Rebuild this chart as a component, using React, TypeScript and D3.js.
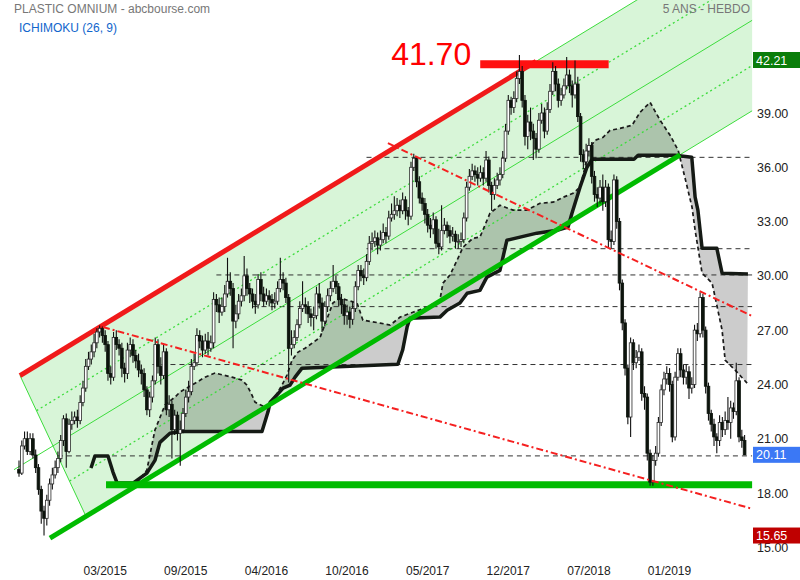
import * as d3 from "d3";

// Weekly bars, 5 years. Open of each bar = previous close.
const firstOpen = 19.3;
const closes = [
  19.1, 20.6, 21.0, 20.3, 21.0, 20.1, 19.4, 18.2, 17.0, 16.6,
  17.6, 18.5, 19.0, 19.4, 19.9, 20.9, 22.1, 20.3, 21.8, 22.0,
  22.2, 22.0, 23.0, 23.8, 25.0, 25.4, 25.8, 26.3, 26.9, 27.1,
  26.7, 26.2, 24.6, 24.4, 26.6, 26.2, 26.0, 24.9, 24.6, 25.9,
  26.2, 25.6, 25.3, 24.8, 24.6, 23.7, 22.6, 23.3, 24.2, 26.2,
  25.0, 24.5, 25.8, 22.6, 22.9, 21.5, 22.3, 21.3, 21.5, 22.4,
  23.3, 23.6, 25.0, 25.2, 26.7, 26.4, 25.9, 26.4, 26.0, 26.3,
  28.7, 28.4, 28.0, 28.3, 29.0, 29.7, 29.3, 27.5, 27.9, 28.6,
  28.9, 30.0, 29.3, 29.0, 28.6, 28.4, 29.8, 29.0, 28.6, 28.9,
  28.7, 28.5, 28.6, 29.3, 29.8, 29.6, 28.8, 26.0, 26.2, 26.6,
  27.3, 28.2, 28.4, 28.3, 27.9, 27.7, 27.8, 29.0, 28.5, 27.5,
  28.3, 28.9, 29.3, 29.7, 29.4, 28.7, 28.4, 27.8, 28.0, 27.6,
  28.2, 29.4, 30.3, 30.0, 29.9, 30.8, 31.8, 31.9, 32.1, 31.7,
  32.0, 32.4, 32.2, 33.2, 33.4, 33.6, 33.9, 33.6, 34.2, 33.6,
  33.3, 36.0, 36.5, 35.2, 34.3, 34.0, 33.4, 32.8, 32.6, 33.1,
  31.8, 31.6, 32.5, 32.8, 32.5, 32.2, 32.3, 31.9, 31.9, 32.0,
  33.2, 34.9, 35.5, 35.8, 35.6, 35.4, 35.7, 35.4, 36.4, 35.0,
  34.5, 35.0, 35.3, 35.6, 36.5, 38.0, 39.7, 39.3, 39.8, 40.9,
  41.3, 39.7, 37.7, 38.5, 38.0, 37.6, 37.0, 38.6, 39.0, 38.0,
  39.2, 40.2, 41.3, 40.6, 39.7, 40.0, 40.5, 41.1, 40.5, 40.0,
  40.6, 38.8, 36.7, 36.3, 36.9, 37.2, 35.5, 34.5, 34.3, 34.9,
  34.1, 34.9, 32.0, 31.9, 35.3, 33.0, 29.6, 27.4, 24.9, 22.2,
  26.3, 25.2, 25.5, 25.8, 23.5, 23.3, 20.2, 18.6, 19.8, 20.2,
  21.9, 23.7, 24.3, 24.6, 24.0, 21.1, 24.4, 25.7, 24.8, 24.4,
  24.7, 23.8, 24.0, 27.0, 26.8, 28.8, 27.0, 23.9, 22.4, 21.8,
  21.1, 20.9, 21.9, 21.5, 22.0, 21.9, 22.7, 22.5, 24.2, 21.1,
  20.9, 20.11,
];
const highs = [
  19.8, 20.9, 21.4, 21.4, 21.3, 21.3, 20.4, 19.6, 18.4, 17.3,
  17.9, 18.8, 19.4, 19.8, 20.3, 21.2, 22.3, 22.4, 22.1, 22.5,
  22.5, 22.6, 23.4, 24.2, 25.4, 25.8, 26.2, 26.8, 27.1, 27.25,
  27.2, 27.0, 26.4, 25.0, 26.9, 27.0, 26.5, 26.3, 25.2, 26.3,
  26.6, 26.5, 25.9, 25.7, 25.1, 24.9, 23.9, 23.6, 24.5, 26.6,
  26.5, 25.5, 26.2, 26.0, 23.4, 23.1, 22.6, 22.5, 22.0, 22.7,
  23.7, 24.2, 25.4, 25.7, 27.1, 27.0, 26.7, 26.8, 26.9, 26.7,
  29.1, 29.0, 28.8, 28.8, 29.5, 31.0, 30.2, 29.6, 28.4, 29.0,
  29.3, 31.1, 30.4, 29.6, 29.3, 29.0, 30.1, 30.2, 29.4, 29.3,
  29.2, 29.0, 29.1, 29.7, 31.0, 30.2, 29.9, 29.0, 27.0, 27.0,
  27.6, 28.6, 29.7, 28.8, 28.6, 28.2, 28.3, 29.4, 29.6, 28.8,
  28.6, 29.3, 29.7, 30.6, 30.0, 29.6, 29.0, 28.7, 28.4, 28.3,
  28.6, 29.7, 30.6, 30.6, 30.4, 31.2, 32.2, 32.4, 32.5, 32.4,
  32.5, 32.9, 32.7, 33.6, 34.0, 34.4, 34.3, 34.2, 34.6, 34.4,
  33.8, 36.3, 36.75, 36.6, 35.5, 34.6, 34.3, 33.7, 33.2, 33.5,
  33.3, 32.6, 33.9, 33.2, 33.0, 32.8, 32.7, 32.5, 32.3, 32.4,
  33.5, 35.2, 35.9, 36.2, 36.1, 36.0, 36.1, 36.0, 36.9, 36.6,
  35.2, 35.4, 35.7, 36.0, 36.9, 38.4, 40.0, 39.9, 40.2, 41.3,
  42.21, 41.6, 40.0, 38.9, 39.3, 38.4, 37.9, 39.0, 39.5, 39.3,
  39.6, 40.6, 41.8, 41.6, 40.9, 40.4, 40.9, 42.1, 41.4, 40.8,
  41.9, 41.0, 39.0, 37.0, 37.3, 37.6, 37.4, 35.8, 34.9, 35.3,
  35.6, 35.3, 35.1, 32.5, 35.6, 35.5, 33.2, 29.8, 27.6, 25.1,
  26.6, 26.5, 25.9, 26.2, 26.0, 23.9, 23.5, 20.4, 20.1, 20.6,
  22.2, 24.0, 24.7, 25.0, 24.9, 24.2, 24.7, 26.0, 26.0, 25.1,
  25.1, 25.0, 24.4, 27.3, 27.4, 29.1, 29.0, 27.2, 24.1, 22.6,
  22.1, 21.3, 22.3, 22.2, 22.5, 23.3, 23.1, 23.0, 25.2, 24.4,
  21.5, 21.2,
];
const lows = [
  18.9, 19.0, 20.4, 20.1, 20.1, 19.9, 19.1, 17.9, 16.3, 15.65,
  16.2, 17.3, 18.2, 18.8, 19.1, 19.7, 20.6, 19.4, 20.2, 21.5,
  21.8, 21.6, 21.8, 22.8, 23.6, 24.8, 25.1, 25.5, 26.0, 26.6,
  26.3, 25.8, 24.2, 24.0, 24.2, 25.9, 25.6, 24.4, 24.1, 24.3,
  25.5, 25.2, 24.9, 24.4, 24.0, 23.3, 22.3, 22.2, 23.0, 24.0,
  24.6, 24.0, 24.3, 22.3, 22.2, 19.9, 21.2, 20.9, 19.5, 21.3,
  22.2, 23.0, 23.4, 24.8, 25.0, 26.0, 25.5, 25.7, 25.6, 25.8,
  26.0, 28.0, 27.4, 27.8, 28.0, 28.8, 28.9, 26.0, 27.1, 27.6,
  28.3, 28.6, 28.9, 28.5, 28.2, 27.9, 28.2, 28.6, 28.3, 28.4,
  28.3, 28.1, 28.2, 28.4, 29.1, 29.2, 28.5, 24.1, 25.6, 26.0,
  26.4, 27.1, 28.0, 27.9, 27.4, 27.2, 27.0, 27.6, 28.2, 26.9,
  27.2, 28.0, 28.6, 29.1, 29.0, 28.3, 27.9, 27.3, 27.3, 27.1,
  27.3, 28.0, 29.2, 29.7, 29.5, 29.7, 30.6, 31.4, 31.6, 31.2,
  31.4, 31.8, 31.8, 32.0, 33.0, 33.1, 33.3, 33.2, 33.4, 33.1,
  32.8, 33.1, 35.8, 34.9, 34.0, 33.6, 32.9, 32.4, 32.1, 32.3,
  31.5, 31.2, 31.4, 32.3, 32.1, 31.8, 31.9, 31.5, 31.5, 31.6,
  31.8, 33.0, 34.7, 35.3, 35.2, 35.0, 35.2, 35.0, 35.2, 34.6,
  33.6, 34.2, 34.8, 35.0, 35.4, 36.3, 37.8, 38.9, 39.0, 39.6,
  40.6, 39.3, 37.2, 37.0, 37.5, 36.4, 36.5, 36.8, 38.4, 37.6,
  37.8, 39.0, 40.0, 40.2, 39.3, 39.4, 39.8, 40.3, 40.1, 39.3,
  39.8, 38.5, 36.3, 35.9, 36.0, 36.6, 35.1, 34.1, 33.8, 34.0,
  33.6, 33.8, 31.6, 31.5, 31.7, 32.6, 29.2, 27.0, 24.5, 21.8,
  21.1, 24.8, 24.9, 25.3, 23.1, 22.6, 19.8, 18.4, 18.4, 19.5,
  20.0, 21.7, 23.4, 24.0, 23.6, 20.8, 20.9, 24.2, 24.4, 24.0,
  24.0, 23.2, 23.5, 23.8, 26.4, 26.6, 26.6, 23.5, 22.0, 21.4,
  20.6, 20.2, 20.6, 21.1, 21.2, 21.5, 21.0, 22.1, 22.3, 20.8,
  20.5, 20.1,
];

// Ichimoku spans as [bar, price] breakpoints.
const spanA: [number, number][] = [
  [42.4, 18.55], [46.0, 19.27], [48.9, 21.48], [52.5, 22.86], [56.1, 23.3],
  [57.9, 23.58], [62.2, 23.96], [66.9, 24.4], [70.5, 24.63], [76.6, 24.4],
  [80.2, 24.24], [82.0, 23.96], [83.8, 23.41], [84.9, 23.02], [88.5, 22.75],
  [91.0, 23.02], [94.6, 23.96], [96.4, 24.52], [98.2, 25.34], [100.4, 25.79],
  [102.9, 26.0], [108.3, 26.6], [112.9, 28.5], [115.5, 28.77], [121.6, 28.5],
  [123.7, 27.55], [129.9, 27.39], [133.5, 27.28], [137.1, 27.72], [141.7, 27.99],
  [146.8, 28.27], [151.4, 28.66], [152.5, 29.6], [155.0, 30.04], [157.6, 30.87],
  [159.7, 31.58], [163.3, 32.08], [165.8, 32.14], [169.4, 33.46], [173.0, 33.9],
  [177.7, 33.63], [182.7, 33.63], [187.4, 34.01], [192.1, 34.07], [195.7, 34.34],
  [199.3, 34.57], [201.8, 34.9], [203.6, 36.0], [204.7, 36.94], [207.2, 37.49],
  [210.1, 37.66], [212.6, 38.04], [216.2, 38.15], [220.5, 38.32], [223.4, 39.04],
  [227.0, 39.59], [230.6, 38.6], [234.2, 37.77], [237.1, 36.94], [239.6, 35.39],
  [242.1, 33.79], [243.2, 32.52], [244.2, 31.58], [245.7, 30.15], [249.3, 29.6],
  [250.4, 28.82], [252.9, 27.0], [254.0, 25.34], [257.6, 24.79], [261.9, 24.07],
];
const spanB: [number, number][] = [
  [25.9, 19.38], [27.3, 20.04], [32.0, 20.04], [33.8, 19.16], [35.3, 18.55],
  [41.0, 18.55], [46.0, 19.1], [48.9, 19.8], [50.7, 20.8], [54.3, 21.3],
  [58.6, 21.4], [87.4, 21.4], [89.6, 22.5], [90.3, 23.0], [95.0, 23.8],
  [97.5, 23.96], [99.3, 24.4], [101.8, 24.9], [136.3, 25.12], [138.0, 25.9],
  [139.6, 27.17], [140.6, 27.66], [151.4, 27.72], [154.0, 28.1], [158.6, 28.5],
  [161.2, 29.04], [165.8, 29.2], [168.3, 29.93], [173.0, 30.3], [175.5, 31.97],
  [186.3, 32.36], [193.5, 32.52], [197.5, 32.7], [198.9, 33.46], [201.8, 34.9],
  [204.3, 36.0], [206.1, 36.44], [221.2, 36.44], [222.7, 36.66], [236.0, 36.66],
  [242.0, 36.55], [243.2, 34.35], [244.2, 33.63], [245.7, 31.53], [251.0, 31.53],
  [252.9, 30.15], [262.2, 30.1],
];

// Drawn studies, [bar, price] end points.
const channelUpper: [number, number][] = [[0.36, 24.49], [263.7, 49.12]];
const channelUpperMid: [number, number][] = [[6.3, 22.55], [263.7, 46.62]];
const channelMid: [number, number][] = [[-1.8, 19.29], [263.7, 44.12]];
const channelLowerMid: [number, number][] = [[18.2, 18.66], [263.7, 41.62]];
const channelLower: [number, number][] = [[24.1, 16.71], [263.7, 39.12]];
const resistanceUp: [number, number][] = [[0.36, 24.49], [186, 41.85]];
const supportUp: [number, number][] = [[11.15, 15.5], [237.8, 36.69]];
const downTrend1: [number, number][] = [[30.2, 27.17], [263.7, 17.13]];
const downTrend2: [number, number][] = [[132.7, 37.33], [263.7, 27.78]];
const supportFlat: [number, number][] = [[31.3, 18.45], [263.7, 18.45]];
const resistanceFlat: [number, number][] = [[165.9, 41.7], [212.1, 41.7]];
const resistanceText = "41.70";

// Horizontal dashed levels: price and first bar.
const levelPrices = [36.55, 31.5, 30.05, 28.3, 25.1, 20.05];
const levelFrom = [125, 125, 71, 84, 48, 14];
const lastBar = 263.7;

const yTicks = [15, 18, 21, 24, 27, 30, 33, 36, 39];
const xTickBars = [31, 60, 89, 118, 147, 176, 205, 234];
const xTickLabels = ["03/2015", "09/2015", "04/2016", "10/2016", "05/2017", "12/2017", "07/2018", "01/2019"];

const badgeValues = [42.21, 20.11, 15.65];
const badgeColors = ["#0a7d0a", "#3b78f5", "#bf0000"];

const FONT = "'Liberation Sans', Arial, Helvetica, sans-serif";

export default function App() {
  const x = d3.scaleLinear().domain([0, 261]).range([19, 744.6]);
  const y = d3.scaleLinear().domain([18, 39]).range([493, 113]);
  const line = d3
    .line<[number, number]>()
    .x((d) => x(d[0]))
    .y((d) => y(d[1]));

  const band = line([channelUpper[0], channelLower[0], channelLower[1], channelUpper[1]]) + "Z";
  const bFill = spanB.filter((d) => d[0] >= spanA[0][0]);
  const cloud = line([...spanA, ...bFill.slice().reverse()]) + "Z";

  const bodyW = 2.7;
  const candles = closes.map((c, i) => {
    const o = i === 0 ? firstOpen : closes[i - 1];
    return { i, o, c, h: highs[i], l: lows[i], up: c >= o };
  });

  const thin = "#3ddc3d";

  return (
    <svg
      width={800}
      height={580}
      style={{ position: "absolute", left: 0, top: 0, background: "#fff" }}
      fontFamily={FONT}
    >
      <path d={band} fill="rgba(40,200,40,0.18)" />
      <path d={cloud} fill="rgba(0,0,0,0.2)" fillRule="nonzero" />

      {levelPrices.map((p, k) => (
        <line
          key={"lv" + k}
          x1={x(levelFrom[k])}
          x2={x(lastBar)}
          y1={y(p)}
          y2={y(p)}
          stroke="#333"
          strokeWidth={1}
          strokeDasharray="5 4"
        />
      ))}

      <g fill="none" stroke={thin} strokeWidth={1}>
        <path d={line(channelUpper)!} />
        <path d={line(channelLower)!} />
        <path d={line(channelMid)!} />
        <path d={line([channelUpper[0], channelLower[0]])!} />
        <path d={line(channelUpperMid)!} strokeDasharray="2 3" strokeWidth={1.3} />
        <path d={line(channelLowerMid)!} strokeDasharray="2 3" strokeWidth={1.3} />
      </g>

      <path d={line(spanB)!} fill="none" stroke="#151a15" strokeWidth={3.5} strokeLinejoin="round" />
      <path d={line(spanA)!} fill="none" stroke="#1a1a1a" strokeWidth={1.7} strokeDasharray="4 3" />

      <g fill="none" strokeLinecap="butt">
        <path d={line(resistanceUp)!} stroke="#f01a1a" strokeWidth={5} />
        <path d={line(supportUp)!} stroke="#00bb00" strokeWidth={5} />
        <path d={line(supportFlat)!} stroke="#00bb00" strokeWidth={7} />
        <path d={line(resistanceFlat)!} stroke="#ff1010" strokeWidth={8} />
      </g>

      <g>
        {candles.map((d) => {
          const cx = x(d.i);
          const top = y(Math.max(d.o, d.c));
          const bot = y(Math.min(d.o, d.c));
          return (
            <g key={d.i}>
              <line x1={cx} x2={cx} y1={y(d.h)} y2={y(d.l)} stroke="#111" strokeWidth={1.1} />
              <rect
                x={cx - bodyW / 2}
                y={top}
                width={bodyW}
                height={Math.max(0.8, bot - top)}
                fill={d.up ? "#fff" : "#0d140d"}
                stroke={d.up ? "#2a2a2a" : "#0d140d"}
                strokeWidth={0.8}
              />
            </g>
          );
        })}
      </g>

      <g fill="none" stroke="#f52020" strokeWidth={2} strokeDasharray="7 3 2 3">
        <path d={line(downTrend1)!} />
        <path d={line(downTrend2)!} />
      </g>

      <text
        x={x(resistanceFlat[0][0]) - 9}
        y={y(resistanceFlat[0][1]) + 1}
        textAnchor="end"
        fontSize={32}
        fill="#ff0000"
      >
        {resistanceText}
      </text>

      <text x={14} y={13} fontSize={12} fill="#777">PLASTIC OMNIUM - abcbourse.com</text>
      <text x={19} y={32} fontSize={12} fill="#1166cc">ICHIMOKU (26, 9)</text>
      <text x={750} y={13} fontSize={12} fill="#777" textAnchor="end">5 ANS - HEBDO</text>

      {yTicks.map((t) => (
        <text key={"yt" + t} x={757} y={y(t) + 4.5} fontSize={12.5} fill="#222">
          {d3.format(".2f")(t)}
        </text>
      ))}

      {badgeValues.map((v, k) => {
        const by = Math.max(y(v) - 8, 52);
        return (
          <g key={"bd" + k}>
            <rect x={753} y={by} width={47} height={16} fill={badgeColors[k]} />
            <text x={756} y={by + 12.5} fontSize={12.5} fill="#fff">
              {d3.format(".2f")(v)}
            </text>
          </g>
        );
      })}

      {xTickBars.map((b, k) => (
        <text key={"xt" + k} x={x(b)} y={575} fontSize={12} fill="#222" textAnchor="middle">
          {xTickLabels[k]}
        </text>
      ))}
    </svg>
  );
}
